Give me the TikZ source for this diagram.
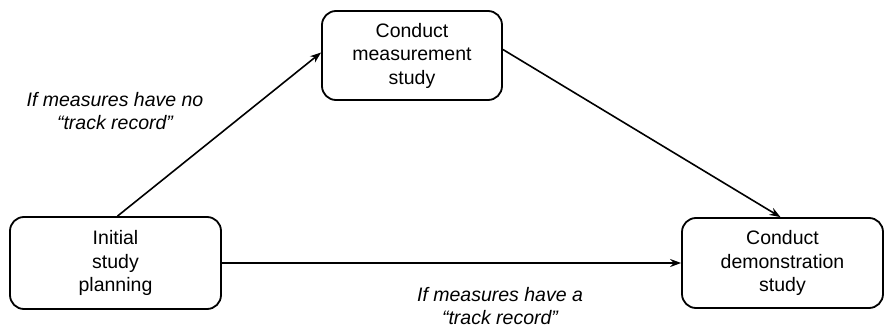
\documentclass[tikz,border=0pt]{standalone}
\usepackage{fontspec}
\setmainfont{Liberation Sans}
\usetikzlibrary{arrows.meta}
\begin{document}
\begin{tikzpicture}[x=1pt,y=-1pt,
  stepbox/.style={draw, line width=1.8pt, rounded corners=14pt, align=center,
    font=\fontsize{19.5}{23.5}\selectfont, inner sep=0pt},
  flow/.style={line width=1.6pt, -{Stealth[length=11pt,width=8pt]}},
  cond/.style={align=center, font=\fontsize{19.5}{23.5}\selectfont\itshape}]
\useasboundingbox (0,0) rectangle (887,329);
\node[stepbox, minimum width=211pt, minimum height=92pt] (plan) at (115.5,263) {Initial\\study\\planning};
\node[stepbox, minimum width=180pt, minimum height=89pt] (meas) at (412,55.5) {Conduct\\measurement\\study};
\node[stepbox, minimum width=201pt, minimum height=90pt] (demo) at (782.5,263) {Conduct\\demonstration\\study};
\draw[flow] ([xshift=2pt]plan.north) -- ([yshift=3pt]meas.west);
\draw[flow] ([yshift=6pt]meas.east) -- ([xshift=-2pt]demo.north);
\draw[flow] (plan.east) -- (demo.west);
\node[cond] (lbl1) at (115,111) {If measures have no\\“track record”};
\node[cond] (lbl2) at (500,306) {If measures have a\\“track record”};
\end{tikzpicture}
\end{document}
